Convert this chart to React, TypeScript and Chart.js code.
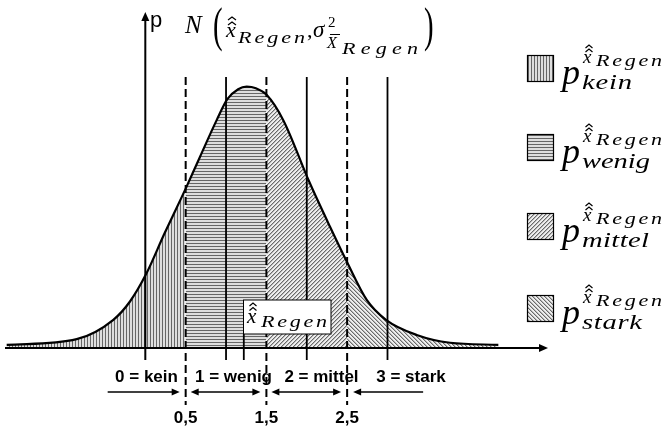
import React, { useEffect, useRef } from 'react';
import { Chart, registerables } from 'chart.js';

Chart.register(...registerables);

// ---- data ----
const curveX = [-1.717, -0.85, -0.396, -0.19, 0.005, 0.24, 0.5, 0.678, 0.884, 1.016, 1.15, 1.256, 1.37, 1.5, 1.709, 2.031, 2.288, 2.5, 2.743, 2.981, 3.362, 3.775, 4.373];
const curveY = [0.006, 0.017, 0.054, 0.089, 0.14, 0.22, 0.305, 0.366, 0.436, 0.476, 0.495, 0.5, 0.497, 0.485, 0.436, 0.318, 0.232, 0.164, 0.092, 0.054, 0.025, 0.01, 0.006];
const boundaries = [0.5, 1.5, 2.5];
const boundaryLabels = ['0,5', '1,5', '2,5'];
const categoryValues = [1, 2, 3];
const categoryLabels = ['0 = kein', '1 = wenig', '2 = mittel', '3 = stark'];
const legendSubscripts = ['kein', 'wenig', 'mittel', 'stark'];
const xHatValue = 1.22;

// ---- layout constants (pixels) ----
const W = 665;
const H = 427;
const LINE_TOP = 77;
const LINE_BOTTOM = 360;
const DASH_BOTTOM = 405;
const BOX = { l: 243.5, t: 300, r: 331, b: 334 };
const LABEL_CENTERS = [146.5, 233.5, 321.5, 411];
const LEGEND_TOPS = [55, 134, 213, 295];
const LEGEND_SUB_W = [50, 68, 67, 60];

const SERIF = '"Liberation Serif", "DejaVu Serif", serif';
const SANS = '"Liberation Sans", Arial, sans-serif';

function makePattern(kind: string): CanvasPattern | string {
  const c = document.createElement('canvas');
  const g = c.getContext('2d');
  if (!g) return '#ccc';
  if (kind === 'v' || kind === 'h') {
    c.width = 3; c.height = 3;
    g.fillStyle = '#dedede'; g.fillRect(0, 0, 3, 3);
    g.fillStyle = '#666666';
    if (kind === 'v') g.fillRect(0, 0, 1, 3); else g.fillRect(0, 0, 3, 1);
  } else {
    c.width = 4; c.height = 4;
    g.fillStyle = '#eeeeee'; g.fillRect(0, 0, 4, 4);
    for (let i = 0; i < 4; i++) {
      const x = kind === 'd1' ? 3 - i : i;
      g.fillStyle = '#6a6a6a'; g.fillRect(x, i, 1, 1);
      g.fillStyle = '#b8b8b8'; g.fillRect((x + 1) % 4, i, 1, 1);
    }
  }
  return g.createPattern(c, 'repeat') || '#ccc';
}

function regionOf(x: number) {
  let r = 0;
  for (const b of boundaries) if (x >= b - 1e-9) r++;
  return r;
}

// draws text starting at x, stretched (up to 1.3x) and spaced to span `width`
function spaced(ctx: CanvasRenderingContext2D, text: string, x: number, y: number, width?: number) {
  const chars = [...text];
  const ws = chars.map((c) => ctx.measureText(c).width);
  const total = ws.reduce((a, b) => a + b, 0);
  const s = width ? Math.max(1, Math.min(1.3, width / total)) : 1;
  const gap = width && chars.length > 1 ? (width - total * s) / (chars.length - 1) : 0;
  let cx = x;
  chars.forEach((c, i) => {
    ctx.save();
    ctx.translate(cx, y);
    ctx.scale(s, 1);
    ctx.fillText(c, 0, 0);
    ctx.restore();
    cx += ws[i] * s + gap;
  });
}

function hats(ctx: CanvasRenderingContext2D, cx: number, top: number, w: number, gap: number) {
  ctx.save();
  ctx.lineWidth = 1.2;
  ctx.strokeStyle = '#000';
  for (let k = 0; k < 2; k++) {
    const y = top + k * gap;
    ctx.beginPath();
    ctx.moveTo(cx - w / 2, y + 3);
    ctx.lineTo(cx, y);
    ctx.lineTo(cx + w / 2, y + 3);
    ctx.stroke();
  }
  ctx.restore();
}

function seg(ctx: CanvasRenderingContext2D, x1: number, y1: number, x2: number, y2: number) {
  ctx.beginPath(); ctx.moveTo(x1, y1); ctx.lineTo(x2, y2); ctx.stroke();
}

function head(ctx: CanvasRenderingContext2D, x: number, y: number, dx: number, dy: number, L: number, hw: number) {
  const px = -dy, py = dx;
  ctx.beginPath();
  ctx.moveTo(x, y);
  ctx.lineTo(x - dx * L + px * hw, y - dy * L + py * hw);
  ctx.lineTo(x - dx * L - px * hw, y - dy * L - py * hw);
  ctx.closePath();
  ctx.fill();
}

function bigParen(ctx: CanvasRenderingContext2D, ch: string, x: number, base: number) {
  ctx.save();
  ctx.translate(x, base);
  ctx.scale(0.6, 1);
  ctx.font = `48px ${SERIF}`;
  ctx.fillText(ch, 0, 0);
  ctx.restore();
}

function makeOverlay(patterns: (CanvasPattern | string)[]) {
  return {
    id: 'overlay',
    afterDatasetsDraw(chart: any) {
      const ctx: CanvasRenderingContext2D = chart.ctx;
      const xs = chart.scales.x;
      const ys = chart.scales.y;
      const X = (v: number) => xs.getPixelForValue(v);
      const y0 = ys.getPixelForValue(0);
      ctx.save();
      ctx.fillStyle = '#000';
      ctx.strokeStyle = '#000';
      ctx.textBaseline = 'alphabetic';

      // axes
      ctx.lineWidth = 2;
      seg(ctx, 5, y0, 541, y0);
      head(ctx, 548, y0, 1, 0, 9, 4);
      const ax = X(0);
      seg(ctx, ax, LINE_BOTTOM, ax, 19);
      head(ctx, ax, 12, 0, -1, 9, 4);

      // y label
      ctx.font = `22px ${SANS}`;
      ctx.fillText('p', 150, 27);

      // label box
      ctx.fillStyle = '#fff';
      ctx.fillRect(BOX.l, BOX.t, BOX.r - BOX.l, BOX.b - BOX.t);
      ctx.lineWidth = 1;
      ctx.strokeRect(BOX.l, BOX.t, BOX.r - BOX.l, BOX.b - BOX.t);
      ctx.fillStyle = '#000';
      ctx.font = `italic 21px ${SERIF}`;
      ctx.fillText('x', 247, 323);
      hats(ctx, 253, 303, 7, 4.5);
      ctx.font = `italic 17px ${SERIF}`;
      spaced(ctx, 'Regen', 261, 327, 66);

      // title
      ctx.font = `italic 25px ${SERIF}`;
      ctx.fillText('N', 185, 33);
      bigParen(ctx, '(', 213, 41);
      ctx.font = `italic 22px ${SERIF}`;
      ctx.fillText('x', 226, 37);
      hats(ctx, 232, 17, 8, 5);
      ctx.font = `italic 17px ${SERIF}`;
      spaced(ctx, 'Regen', 238, 43, 67);
      ctx.font = `22px ${SERIF}`;
      ctx.fillText(',', 307, 37);
      ctx.font = `italic 23px ${SERIF}`;
      ctx.fillText('σ', 313, 37);
      ctx.font = `15px ${SERIF}`;
      ctx.fillText('2', 328, 27);
      ctx.font = `italic 16px ${SERIF}`;
      ctx.fillText('X', 327, 48);
      ctx.lineWidth = 1;
      seg(ctx, 330, 34.5, 340, 34.5);
      ctx.font = `italic 17px ${SERIF}`;
      spaced(ctx, 'Regen', 342, 54, 76);
      bigParen(ctx, ')', 424, 41);

      // category labels
      ctx.font = `bold 17px ${SANS}`;
      ctx.textAlign = 'center';
      categoryLabels.forEach((t, i) => ctx.fillText(t, LABEL_CENTERS[i], 382));
      boundaries.forEach((b, i) => ctx.fillText(boundaryLabels[i], X(b), 423));
      ctx.textAlign = 'left';

      // range arrows
      const ay = 392;
      ctx.lineWidth = 1.5;
      const b0 = X(boundaries[0]), b1 = X(boundaries[1]), b2 = X(boundaries[2]);
      seg(ctx, b0 - 78, ay, b0 - 12, ay); head(ctx, b0 - 6, ay, 1, 0, 8, 3.5);
      seg(ctx, b0 + 10, ay, b1 - 12, ay); head(ctx, b0 + 5, ay, -1, 0, 8, 3.5); head(ctx, b1 - 6, ay, 1, 0, 8, 3.5);
      seg(ctx, b1 + 10, ay, b2 - 12, ay); head(ctx, b1 + 5, ay, -1, 0, 8, 3.5); head(ctx, b2 - 6, ay, 1, 0, 8, 3.5);
      seg(ctx, b2 + 12, ay, b2 + 76, ay); head(ctx, b2 + 6, ay, -1, 0, 8, 3.5);

      // legend
      LEGEND_TOPS.forEach((t, i) => {
        ctx.fillStyle = patterns[i] as any;
        ctx.fillRect(527, t, 27, 27);
        ctx.lineWidth = 1.2;
        ctx.strokeStyle = '#000';
        ctx.strokeRect(527.5, t + 0.5, 26, 26);
        ctx.fillStyle = '#000';
        ctx.font = `italic 36px ${SERIF}`;
        ctx.fillText('p', 562, t + 29);
        ctx.font = `italic 19px ${SERIF}`;
        ctx.fillText('x', 583, t + 8);
        hats(ctx, 589, t - 10, 7, 4);
        ctx.font = `italic 17px ${SERIF}`;
        spaced(ctx, 'Regen', 596, t + 11, 66);
        ctx.font = `italic 22px ${SERIF}`;
        spaced(ctx, legendSubscripts[i], 582, t + 34, LEGEND_SUB_W[i]);
      });
      ctx.restore();
    },
  };
}

export default function App() {
  const ref = useRef<HTMLCanvasElement | null>(null);
  useEffect(() => {
    if (!ref.current) return;
    const patterns = [makePattern('v'), makePattern('h'), makePattern('d1'), makePattern('d2')];
    const yMin = -0.15117;
    const yMax = 0.6659;
    // convert pixel extents of guide lines into values of the y scale
    const pxToY = (p: number) => yMax - (p / H) * (yMax - yMin);

    const vline = (x: number, top: number, bottom: number, dashed: boolean) => ({
      data: [{ x, y: pxToY(top) }, { x, y: pxToY(bottom) }],
      borderColor: '#000',
      borderWidth: dashed ? 2 : 1.8,
      borderDash: dashed ? [8, 4] : [],
      pointRadius: 0,
      fill: false,
      order: 2,
    });

    const datasets: any[] = [
      {
        data: curveX.map((x, i) => ({ x, y: curveY[i] })),
        borderColor: '#000',
        borderWidth: 2.2,
        pointRadius: 0,
        fill: 'origin',
        backgroundColor: patterns[0],
        cubicInterpolationMode: 'monotone',
        segment: {
          backgroundColor: (c: any) => patterns[regionOf(curveX[c.p0DataIndex])],
        },
        order: 0,
      },
      ...categoryValues.map((v) => vline(v, LINE_TOP, LINE_BOTTOM, false)),
      ...boundaries.map((b) => vline(b, LINE_TOP, DASH_BOTTOM, true)),
      vline(xHatValue, BOX.b, LINE_BOTTOM, false),
    ];

    const chart = new Chart(ref.current, {
      type: 'line',
      data: { datasets },
      options: {
        animation: false,
        responsive: false,
        maintainAspectRatio: false,
        events: [],
        layout: { padding: 0 },
        scales: {
          x: { type: 'linear', min: -1.8, max: 6.4375, display: false },
          y: { type: 'linear', min: yMin, max: yMax, display: false },
        },
        plugins: {
          legend: { display: false },
          tooltip: { enabled: false },
          filler: { drawTime: 'beforeDatasetsDraw' },
        } as any,
      },
      plugins: [makeOverlay(patterns)],
    });
    return () => chart.destroy();
  }, []);

  return (
    <div style={{ position: 'fixed', left: 0, top: 0, width: W, height: H, background: '#fff' }}>
      <canvas ref={ref} width={W} height={H} style={{ display: 'block', width: W, height: H }} />
    </div>
  );
}
